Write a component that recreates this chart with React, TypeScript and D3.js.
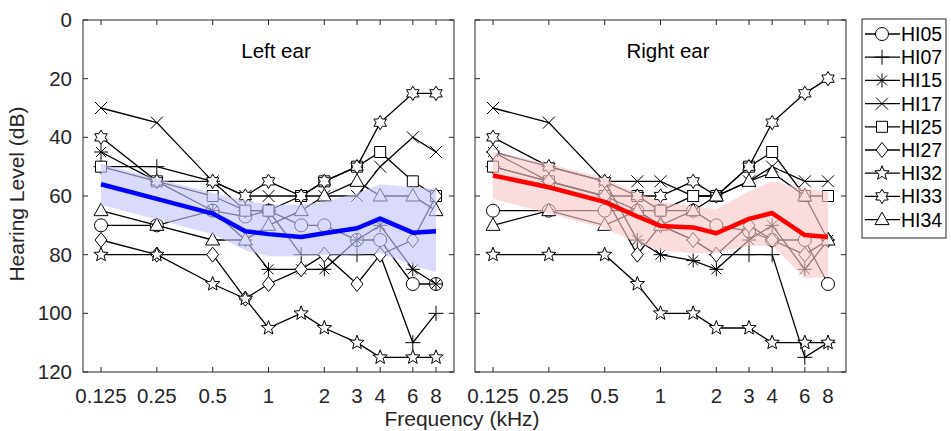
import React from 'react';
import * as d3 from 'd3';

// ---------- data ----------
const FREQS = [0.125, 0.25, 0.5, 0.75, 1, 1.5, 2, 3, 4, 6, 8];
const X_TICKS = [0.125, 0.25, 0.5, 1, 2, 3, 4, 6, 8];
const X_TICK_LABELS = ['0.125', '0.25', '0.5', '1', '2', '3', '4', '6', '8'];
const Y_TICKS = [0, 20, 40, 60, 80, 100, 120];
const SUBJECTS = ['HI05', 'HI07', 'HI15', 'HI17', 'HI25', 'HI27', 'HI32', 'HI33', 'HI34'];
const MARKERS = ['circle', 'plus', 'asterisk', 'cross', 'square', 'diamond', 'pentagram', 'hexagram', 'triangle'];

// Left ear thresholds (dB HL)
const left_HI05 = [70, 70, 65, 67, 65, 70, 70, 75, 75, 90, 90];
const left_HI07 = [50, 50, 55, 65, 65, 80, 80, 80, 80, 110, 100];
const left_HI15 = [45, 55, 65, 75, 85, 85, 85, 75, 70, 85, 90];
const left_HI17 = [30, 35, 55, 60, 60, 60, 60, 60, 50, 40, 45];
const left_HI25 = [50, 55, 60, 65, 65, 60, 55, 50, 45, 55, 60];
const left_HI27 = [75, 80, 80, 95, 90, 85, 80, 90, 80, 75, 60];
const left_HI32 = [80, 80, 90, 95, 105, 100, 105, 110, 115, 115, 115];
const left_HI33 = [40, 55, 55, 60, 55, 60, 55, 50, 35, 25, 25];
const left_HI34 = [65, 70, 75, 75, 70, 65, 60, 55, 60, 60, 65];
const left_mean = [56, 61, 66, 72, 73, 74, 72.7, 71, 67.7, 72.5, 72];
const left_upper = [49, 54, 59, 61.5, 63, 63, 62, 59, 56, 57, 57.5];
const left_lower = [63, 68, 73, 78.5, 80.5, 80.5, 80, 80, 79.5, 83.5, 86];

// Right ear thresholds (dB HL)
const right_HI05 = [65, 65, 65, 65, 65, 65, 70, 72, 75, 75, 90];
const right_HI07 = [50, 55, 60, 65, 70, 75, 80, 80, 80, 115, 110];
const right_HI15 = [45, 50, 55, 75, 80, 82, 85, 75, 70, 85, 75];
const right_HI17 = [30, 35, 55, 55, 55, 60, 60, 55, 50, 55, 55];
const right_HI25 = [50, 55, 60, 60, 65, 60, 60, 50, 45, 60, 60];
const right_HI27 = [45, 55, 60, 80, 70, 75, 80, 70, 75, 80, 75];
const right_HI32 = [80, 80, 80, 90, 100, 100, 105, 105, 110, 110, 110];
const right_HI33 = [40, 50, 55, 60, 60, 55, 60, 50, 35, 25, 20];
const right_HI34 = [70, 65, 70, 65, 70, 65, 60, 55, 52, 60, 75];
const right_mean = [53, 57, 62, 67, 70.2, 70.7, 72.7, 67.8, 65.8, 73.3, 74];
const right_upper = [45, 49, 54, 59, 62, 63.5, 64.5, 58.5, 55, 57.5, 58.5];
const right_lower = [61, 66, 71, 76, 78.5, 79.5, 79.5, 77, 77, 88, 87.5];

const LEFT_SERIES = [left_HI05, left_HI07, left_HI15, left_HI17, left_HI25, left_HI27, left_HI32, left_HI33, left_HI34];
const RIGHT_SERIES = [right_HI05, right_HI07, right_HI15, right_HI17, right_HI25, right_HI27, right_HI32, right_HI33, right_HI34];

// ---------- layout ----------
const W = 951;
const H = 431;
const PANEL_W = 371;
const TOP = 20;
const BOTTOM = 372;
const FONT = '"Liberation Sans", Arial, Helvetica, sans-serif';
const AX = '#262626';

function starPath(points: number, outer: number, inner: number, rot = -Math.PI / 2) {
  const pts: string[] = [];
  for (let i = 0; i < points * 2; i++) {
    const r = i % 2 === 0 ? outer : inner;
    const a = rot + (i * Math.PI) / points;
    pts.push(`${(r * Math.cos(a)).toFixed(2)},${(r * Math.sin(a)).toFixed(2)}`);
  }
  return 'M' + pts.join('L') + 'Z';
}

const MARKER_DEF: Record<string, { d: string; filled: boolean }> = {
  circle: { d: 'M6.5,0A6.5,6.5 0 1,1 -6.5,0A6.5,6.5 0 1,1 6.5,0Z', filled: true },
  plus: { d: 'M-7.5,0H7.5M0,-7.5V7.5', filled: false },
  asterisk: { d: 'M-7,0H7M0,-7V7M-5,-5L5,5M-5,5L5,-5', filled: false },
  cross: { d: 'M-6,-6L6,6M-6,6L6,-6', filled: false },
  square: { d: 'M-5.5,-5.5H5.5V5.5H-5.5Z', filled: true },
  diamond: { d: 'M0,-7.5L6,0L0,7.5L-6,0Z', filled: true },
  pentagram: { d: starPath(5, 7.5, 3.2), filled: true },
  hexagram: { d: starPath(6, 7.2, 4.2), filled: true },
  triangle: { d: 'M0,-7.5L7,5L-7,5Z', filled: true },
};

function Marker({ kind, x, y }: { kind: string; x: number; y: number }) {
  const m = MARKER_DEF[kind];
  return (
    <path
      d={m.d}
      transform={`translate(${x},${y})`}
      fill={m.filled ? '#fff' : 'none'}
      stroke="#000"
      strokeWidth={1}
    />
  );
}

function Panel({
  left,
  title,
  series,
  mean,
  upper,
  lower,
  meanColor,
  bandColor,
  showYLabels,
}: {
  left: number;
  title: string;
  series: number[][];
  mean: number[];
  upper: number[];
  lower: number[];
  meanColor: string;
  bandColor: string;
  showYLabels: boolean;
}) {
  const x = d3.scaleLog().base(2).domain([0.125, 8]).range([left + 18, left + 353]);
  const y = d3.scaleLinear().domain([0, 120]).range([TOP, BOTTOM]);
  const line = d3
    .line<number>()
    .x((_, i) => x(FREQS[i]))
    .y((d) => y(d));
  const area = d3
    .area<number>()
    .x((_, i) => x(FREQS[i]))
    .y0((_, i) => y(lower[i]))
    .y1((d) => y(d));
  const right = left + PANEL_W;
  return (
    <g>
      {series.map((s, si) => (
        <g key={si}>
          <path d={line(s) || ''} fill="none" stroke="#000" strokeWidth={1.3} />
          {s.map((v, i) => (
            <Marker key={i} kind={MARKERS[si]} x={x(FREQS[i])} y={y(v)} />
          ))}
        </g>
      ))}
      <path d={area(upper) || ''} fill={bandColor} fillOpacity={0.62} stroke="none" />
      <path d={line(mean) || ''} fill="none" stroke={meanColor} strokeWidth={4.5} strokeLinejoin="round" />
      <rect x={left} y={TOP} width={PANEL_W} height={BOTTOM - TOP} fill="none" stroke={AX} strokeWidth={1} />
      {X_TICKS.map((t, i) => (
        <g key={'xt' + i}>
          <line x1={x(t)} x2={x(t)} y1={BOTTOM} y2={BOTTOM - 5} stroke={AX} />
          <line x1={x(t)} x2={x(t)} y1={TOP} y2={TOP + 5} stroke={AX} />
          <text x={x(t)} y={403} textAnchor="middle" fontFamily={FONT} fontSize={20.5} fill={AX}>
            {X_TICK_LABELS[i]}
          </text>
        </g>
      ))}
      {Y_TICKS.map((t, i) => (
        <g key={'yt' + i}>
          <line x1={left} x2={left + 5} y1={y(t)} y2={y(t)} stroke={AX} />
          <line x1={right} x2={right - 5} y1={y(t)} y2={y(t)} stroke={AX} />
          {showYLabels && (
            <text x={left - 11} y={y(t) + 7} textAnchor="end" fontFamily={FONT} fontSize={20.5} fill={AX}>
              {t}
            </text>
          )}
        </g>
      ))}
      <text x={left + 193} y={58} textAnchor="middle" fontFamily={FONT} fontSize={20.5} fill="#000">
        {title}
      </text>
    </g>
  );
}

export default function App() {
  const legendX = 862;
  const legendY = 19;
  const legendRow = 23.2;
  return (
    <svg width={W} height={H} style={{ position: 'absolute', left: 0, top: 0, background: '#fff' }}>
      <rect x={0} y={0} width={W} height={H} fill="#fff" />
      <Panel
        left={83}
        title="Left ear"
        series={LEFT_SERIES}
        mean={left_mean}
        upper={left_upper}
        lower={left_lower}
        meanColor="#0000ff"
        bandColor="rgb(196,196,247)"
        showYLabels={true}
      />
      <Panel
        left={475}
        title="Right ear"
        series={RIGHT_SERIES}
        mean={right_mean}
        upper={right_upper}
        lower={right_lower}
        meanColor="#ff0000"
        bandColor="rgb(247,198,198)"
        showYLabels={false}
      />
      <text
        transform={`translate(24,194) rotate(-90)`}
        textAnchor="middle"
        fontFamily={FONT}
        fontSize={21}
        fill={AX}
      >
        Hearing Level (dB)
      </text>
      <text x={462} y={425.5} textAnchor="middle" fontFamily={FONT} fontSize={21} fill={AX}>
        Frequency (kHz)
      </text>
      <rect x={legendX} y={legendY} width={84} height={219} fill="#fff" stroke={AX} strokeWidth={1} />
      {SUBJECTS.map((s, i) => {
        const yy = 34 + i * legendRow;
        return (
          <g key={s}>
            <line x1={865} x2={900} y1={yy} y2={yy} stroke="#000" strokeWidth={1.3} />
            <Marker kind={MARKERS[i]} x={882} y={yy} />
            <text x={901} y={yy + 7} fontFamily={FONT} fontSize={19.5} fill="#000">
              {s}
            </text>
          </g>
        );
      })}
    </svg>
  );
}
